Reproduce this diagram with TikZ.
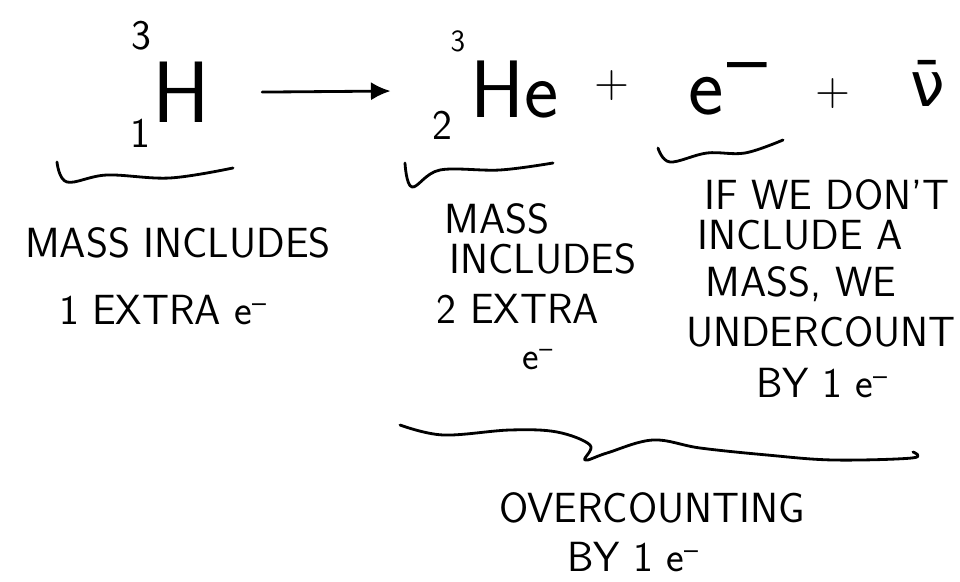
\documentclass[tikz,border=0pt]{standalone}
\usepackage{fontspec}
\usetikzlibrary{arrows.meta}
\newfontfamily\nufont{DejaVu Sans}
\newcommand{\elec}{e\textsuperscript{--}}
\tikzset{
  pen/.style={line width=2pt, line cap=round, line join=round},
  note/.style={font=\sffamily\fontsize{30}{34}\selectfont, inner sep=0pt, anchor=base},
  nucl/.style={font=\sffamily\fontsize{62}{62}\selectfont, inner sep=0pt, anchor=base},
  idx/.style={font=\sffamily\fontsize{30}{30}\selectfont, inner sep=0pt, anchor=base},
  op/.style={font=\sffamily\fontsize{34}{34}\selectfont, inner sep=0pt},
}
\begin{document}
\begin{tikzpicture}[x=0.025cm, y=-0.025cm]
  \useasboundingbox (0,0) rectangle (960,582);
  % reaction
  \node[nucl] (H) at (181,123) {H};
  \node[idx] (Hmass) at (141,50) {3};
  \node[idx] (Hz) at (140,148) {1};
  \node[nucl, font=\sffamily\fontsize{58}{58}\selectfont] (He) at (515,118) {He};
  \node[idx, font=\sffamily\fontsize{22}{22}\selectfont] (Hemass) at (458,52) {3};
  \node[idx] (Hez) at (442,140) {2};
  \node[op] (plusA) at (612,86) {+};
  \node[nucl, anchor=base west, font=\sffamily\fontsize{60}{60}\selectfont] (el) at (688,115) {e\kern0.05em\raisebox{0.33em}{--}};
  \node[op] (plusB) at (833,94) {+};
  \node[nucl, font=\nufont\fontsize{44}{44}\selectfont] (nu) at (928,107) {ν̄};
  \draw[pen, -{Latex[length=14pt, width=13pt]}, shorten <=1.3cm, shorten >=2.0cm] (H) -- (He);
  % small braces
  \draw[pen] plot[smooth, tension=0.6] coordinates {(57,162) (67,182) (107,175) (170,178) (233,168)};
  \draw[pen] plot[smooth, tension=0.6] coordinates {(405,163) (412,187) (440,170) (500,170) (553,163)};
  \draw[pen] plot[smooth, tension=0.6] coordinates {(658,148) (670,162) (707,153) (745,153) (783,140)};
  % notes
  \node[note] (nH1) at (178,258) {MASS INCLUDES};
  \node[note] (nH2) at (163,325) {1 EXTRA \elec};
  \node[note] (nHe1) at (497,234) {MASS};
  \node[note] (nHe2) at (543,274) {INCLUDES};
  \node[note] (nHe3) at (518,324) {2 EXTRA};
  \node[note, font=\sffamily\fontsize{28}{32}\selectfont] (nHe4) at (538,370) {\elec};
  \node[note] (ne1) at (827,210) {IF WE DON'T};
  \node[note] (ne2) at (800,250) {INCLUDE A};
  \node[note] (ne3) at (801,297) {MASS, WE};
  \node[note] (ne4) at (821,347) {UNDERCOUNT};
  \node[note] (ne5) at (822,398) {BY 1 \elec};
  % big brace
  \draw[pen] plot[smooth, tension=0.6] coordinates {(400,425) (443,435) (510,430) (557,432) (590,445) (585,460) (607,453) (653,440) (700,448) (767,455) (833,460) (912,458) (913,452)};
  \node[note] (over1) at (652,523) {OVERCOUNTING};
  \node[note] (over2) at (633,572) {BY 1 \elec};
\end{tikzpicture}
\end{document}
